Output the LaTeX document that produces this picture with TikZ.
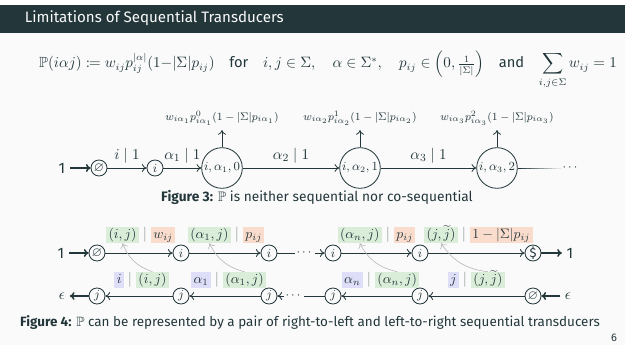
\documentclass[tikz,border=0pt]{standalone}
\usepackage{fontspec}
\setmainfont{Fira Sans}
\usepackage{amsmath}
\usepackage{amssymb}
\usepackage{mathtools}
\usetikzlibrary{arrows.meta, positioning, calc}
\definecolor{mDarkTeal}{HTML}{23373B}
\definecolor{mBg}{HTML}{FAFAFA}
\definecolor{hlgreen}{HTML}{D9EDD9}
\definecolor{hlsalmon}{HTML}{FADCCD}
\definecolor{hlblue}{HTML}{DEDEF8}
\tikzset{
  smallstate/.style={circle, draw, line width=0.6pt, minimum size=4.1mm, inner sep=0pt, font=\fontsize{9.5}{11}\selectfont},
  bigstate/.style={circle, draw, line width=0.6pt, minimum size=10.4mm, inner sep=0pt, font=\fontsize{9}{11}\selectfont},
  hlbox/.style={inner xsep=0.6mm, inner ysep=0.4mm, text height=2.5mm, text depth=0.8mm, font=\fontsize{10}{12}\selectfont},
  trans/.style={->, line width=0.6pt},
  bigtrans/.style={->, line width=1.1pt},
  backlink/.style={->, gray!60, line width=0.4pt}
}
\newcommand{\hlpair}[7]{%
  \node[inner sep=0pt, text=mDarkTeal!55] (#1bar) at (#2,#3) {$|$};
  \node[hlbox, fill=#5, left=0.9mm of #1bar] (#1l) {#4};
  \node[hlbox, fill=#7, right=0.9mm of #1bar] (#1r) {#6};
}
\begin{document}
\begin{tikzpicture}[x=0.256mm, y=0.256mm, color=mDarkTeal, font=\fontsize{11}{13}\selectfont, >={To[length=1.2mm, width=2mm]}]
    % slide
    \useasboundingbox (0,0) rectangle (625,-345);
    \fill[white] (0,0) rectangle (625,-5);
    \fill[mDarkTeal] (0,-5) rectangle (625,-33);
    \fill[mBg] (0,-33) rectangle (625,-345);
    \node[anchor=base west, text=mBg] (title) at (20,-23) {Limitations of Sequential Transducers};

    \node[anchor=base, font=\fontsize{10.7}{13}\selectfont] (formula) at (328,-68) {$\mathbb{P}(i\alpha j) \coloneqq w_{ij}p_{ij}^{|\alpha|}(1{-}|\Sigma|p_{ij})$\quad for\quad $i,j\in\Sigma,\quad \alpha\in\Sigma^*,\quad p_{ij}\in\left(0,\frac{1}{|\Sigma|}\right)$\quad and\quad $\displaystyle\sum_{i,j\in\Sigma} w_{ij}=1$};

    % Figure 3
    \node (one) at (62,-168) {1};
    \node[smallstate] (s0) at (99,-168) {$\varnothing$};
    \node[smallstate] (s1) at (155,-168) {$i$};
    \node[bigstate] (q1) at (222,-168) {$i,\alpha_1,0$};
    \node[bigstate] (q2) at (360,-168) {$i,\alpha_2,1$};
    \node[bigstate] (q3) at (497,-168) {$i,\alpha_3,2$};
    \node[font=\fontsize{9}{11}\selectfont] (qdots) at (571,-168) {$\cdots$};

    \node[font=\fontsize{8.5}{10}\selectfont] (w1) at (222,-118) {$w_{i\alpha_1}p^{0}_{i\alpha_1}(1-|\Sigma|p_{i\alpha_1})$};
    \node[font=\fontsize{8.5}{10}\selectfont] (w2) at (360,-118) {$w_{i\alpha_2}p^{1}_{i\alpha_2}(1-|\Sigma|p_{i\alpha_2})$};
    \node[font=\fontsize{8.5}{10}\selectfont] (w3) at (497,-118) {$w_{i\alpha_3}p^{2}_{i\alpha_3}(1-|\Sigma|p_{i\alpha_3})$};

    \draw[bigtrans] (one) -- (s0);
    \draw[trans] (s0) -- node[above] {$i\mid 1$} (s1);
    \draw[trans] (s1) -- node[above] {$\alpha_1\mid 1$} (q1);
    \draw[trans] (q1) -- node[above] {$\alpha_2\mid 1$} (q2);
    \draw[trans] (q2) -- node[above] {$\alpha_3\mid 1$} (q3);
    \foreach \k [evaluate=\k as \op using 1-\k/10] in {0,...,9} {
      \draw[line width=0.6pt, opacity=\op] ($(q3.east)+(\k*4.3,0)$) -- ++(4.3,0);
    }
    \foreach \q in {1,2,3} {
      \draw[trans] (q\q) -- (w\q);
    }

    \node[font=\fontsize{10}{12}\selectfont] (cap3) at (317,-197) {\textbf{Figure 3:} $\mathbb{P}$ is neither sequential nor co-sequential};

    % Figure 4, left-to-right
    \node (tone) at (61,-253) {1};
    \node[smallstate] (t0) at (97,-253) {$\varnothing$};
    \node[smallstate] (t1) at (181,-253) {$i$};
    \node[smallstate] (t2) at (269,-253) {$i$};
    \node[font=\fontsize{9}{11}\selectfont, inner sep=1pt] (tdots) at (305,-253) {$\cdots$};
    \node[smallstate] (t3) at (333,-253) {$i$};
    \node[smallstate] (t4) at (420,-253) {$i$};
    \node[smallstate] (t5) at (533,-253) {\$};
    \node (tend) at (570,-253) {1};

    \draw[bigtrans] (tone) -- (t0);
    \draw[trans] (t0) -- (t1);
    \draw[trans] (t1) -- (t2);
    \draw[line width=0.6pt] (t2) -- (tdots);
    \draw[trans] (tdots) -- (t3);
    \draw[trans] (t3) -- (t4);
    \draw[trans] (t4) -- (t5);
    \draw[bigtrans] (t5) -- (tend);

    \hlpair{ta}{145}{-235}{$(i,j)$}{hlgreen}{$w_{ij}$}{hlsalmon}
    \hlpair{tb}{237}{-235}{$(\alpha_1,j)$}{hlgreen}{$p_{ij}$}{hlsalmon}
    \hlpair{tc}{388}{-235}{$(\alpha_n,j)$}{hlgreen}{$p_{ij}$}{hlsalmon}
    \hlpair{td}{464}{-235}{$(j,\widetilde{j})$}{hlgreen}{$1-|\Sigma|p_{ij}$}{hlsalmon}

    % Figure 4, right-to-left
    \node (bend) at (62,-296) {$\epsilon$};
    \node[smallstate] (b0) at (97,-296) {$j$};
    \node[smallstate] (b1) at (181,-296) {$j$};
    \node[smallstate] (b2) at (269,-296) {$j$};
    \node[font=\fontsize{9}{11}\selectfont, inner sep=1pt] (bdots) at (294,-296) {$\cdots$};
    \node[smallstate] (b3) at (333,-296) {$j$};
    \node[smallstate] (b4) at (420,-296) {$j$};
    \node[smallstate] (b5) at (533,-296) {$\varnothing$};
    \node (bone) at (568,-296) {$\epsilon$};

    \draw[bigtrans] (bone) -- (b5);
    \draw[trans] (b5) -- (b4);
    \draw[trans] (b4) -- (b3);
    \draw[line width=0.6pt] (b3) -- (bdots);
    \draw[trans] (bdots) -- (b2);
    \draw[trans] (b2) -- (b1);
    \draw[trans] (b1) -- (b0);
    \draw[bigtrans] (b0) -- (bend);

    \hlpair{ba}{130}{-280}{$i$}{hlblue}{$(i,j)$}{hlgreen}
    \hlpair{bb}{217}{-280}{$\alpha_1$}{hlblue}{$(\alpha_1,j)$}{hlgreen}
    \hlpair{bc}{369}{-280}{$\alpha_n$}{hlblue}{$(\alpha_n,j)$}{hlgreen}
    \hlpair{bd}{465}{-280}{$j$}{hlblue}{$(j,\widetilde{j})$}{hlgreen}

    \foreach \p in {a,b,c,d} {
      \draw[backlink] (b\p r.north) to[bend left=25] (t\p l.south);
    }

    \node[font=\fontsize{9.8}{12}\selectfont] (cap4) at (310,-323) {\textbf{Figure 4:} $\mathbb{P}$ can be represented by a pair of right-to-left and left-to-right sequential transducers};
    \node[font=\fontsize{8}{10}\selectfont] (pagenum) at (614,-338) {6};
\end{tikzpicture}
\end{document}
